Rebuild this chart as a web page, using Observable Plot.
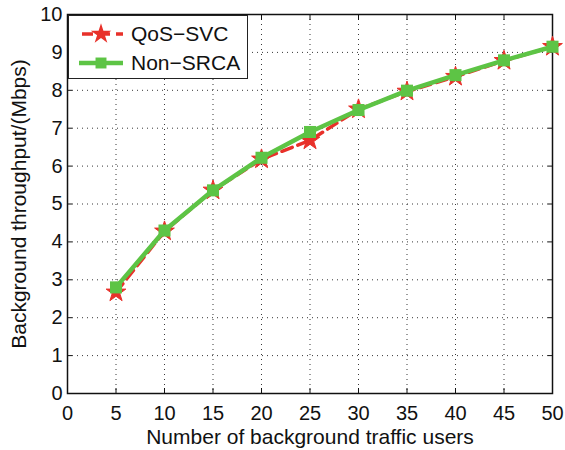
<!DOCTYPE html>
<html>
<head>
<meta charset="utf-8">
<script src="https://cdn.jsdelivr.net/npm/d3@7"></script>
<script src="https://cdn.jsdelivr.net/npm/@observablehq/plot@0.6"></script>
<style>
  html, body { margin: 0; padding: 0; background: #fff; }
  #wrap { position: relative; width: 565px; height: 450px; font-family: "Liberation Sans", Arial, sans-serif; }
  #legend { position: absolute; left: 68px; top: 15px; width: 180px; height: 64px; border: 1.5px solid #222; background: #fff; box-sizing: border-box; }
  .row { position: absolute; left: 0; height: 28px; display: flex; align-items: center; font-size: 21px; color: #111; }
  .row svg { margin-left: 9px; margin-right: 7px; }
</style>
</head>
<body>
<div id="wrap"></div>
<script>
const users = [5, 10, 15, 20, 25, 30, 35, 40, 45, 50];
const qosSvc = [2.67, 4.28, 5.36, 6.18, 6.68, 7.5, 7.97, 8.36, 8.78, 9.15];
const nonSrca = [2.8, 4.3, 5.36, 6.22, 6.9, 7.48, 7.99, 8.4, 8.79, 9.15];
const xTicks = [0, 5, 10, 15, 20, 25, 30, 35, 40, 45, 50];
const yTicks = [0, 1, 2, 3, 4, 5, 6, 7, 8, 9, 10];
const seriesNames = ["QoS\u2212SVC", "Non\u2212SRCA"];
const xTitle = "Number of background traffic users";
const yTitle = "Background throughput/(Mbps)";

const red = "#e8312a", green = "#5dc445";
const qos = users.map((u, i) => ({x: u, y: qosSvc[i]}));
const non = users.map((u, i) => ({x: u, y: nonSrca[i]}));

const chart = Plot.plot({
  width: 565, height: 450,
  marginLeft: 67, marginRight: 13, marginTop: 14, marginBottom: 57,
  style: {fontFamily: "Liberation Sans, Arial, sans-serif", fontSize: "20px", color: "#111", background: "#fff", overflow: "visible"},
  x: {domain: [0, 50], ticks: xTicks},
  y: {domain: [0, 10], ticks: yTicks},
  marks: [
    Plot.gridX(xTicks, {stroke: "#222", strokeOpacity: 0.9, strokeDasharray: "1,4", strokeWidth: 1}),
    Plot.gridY(yTicks, {stroke: "#222", strokeOpacity: 0.9, strokeDasharray: "1,4", strokeWidth: 1}),
    Plot.axisX(xTicks, {anchor: "bottom", tickSize: -5, tickPadding: 17, label: null, fontSize: 20}),
    Plot.axisX(xTicks, {anchor: "top", tickSize: -5, tickFormat: () => "", label: null}),
    Plot.axisY(yTicks, {anchor: "left", tickSize: -5, tickPadding: 10, label: null, fontSize: 20}),
    Plot.axisY(yTicks, {anchor: "right", tickSize: -5, tickFormat: () => "", label: null}),
    Plot.frame({stroke: "#111", strokeWidth: 1.5}),
    Plot.line(qos, {x: "x", y: "y", stroke: red, strokeWidth: 3.5, strokeDasharray: "11,6"}),
    Plot.dot(qos, {x: "x", y: "y", symbol: "star", r: 6.2, fill: red, stroke: red, strokeWidth: 1}),
    Plot.line(non, {x: "x", y: "y", stroke: green, strokeWidth: 4.5}),
    Plot.dot(non, {x: "x", y: "y", symbol: "square", r: 6.8, fill: green, stroke: "none"}),
    Plot.text([xTitle], {frameAnchor: "bottom", dy: 50, fontSize: 21, fill: "#111", textAnchor: "middle"}),
    Plot.text([yTitle], {frameAnchor: "left", dx: -48, rotate: -90, fontSize: 21, fill: "#111", textAnchor: "middle"})
  ]
});

const wrap = document.getElementById("wrap");
wrap.appendChild(chart);

const legend = document.createElement("div");
legend.id = "legend";
function row(top, name, color, dashed, symbol) {
  const r = document.createElement("div");
  r.className = "row";
  r.style.top = top + "px";
  const s = d3.create("svg").attr("width", 46).attr("height", 24);
  s.append("line").attr("x1", 1).attr("x2", 45).attr("y1", 12).attr("y2", 12)
    .attr("stroke", color).attr("stroke-width", dashed ? 3.5 : 4.5)
    .attr("stroke-dasharray", dashed ? "11,6" : null)
    .attr("stroke-dashoffset", dashed ? -3 : 0);
  s.append("path").attr("transform", "translate(23,12)")
    .attr("d", d3.symbol(symbol === "star" ? d3.symbolStar : d3.symbolSquare, symbol === "star" ? 130 : 120)())
    .attr("fill", color);
  r.appendChild(s.node());
  const t = document.createElement("span");
  t.textContent = name;
  r.appendChild(t);
  legend.appendChild(r);
}
row(4, seriesNames[0], red, true, "star");
row(33, seriesNames[1], green, false, "square");
wrap.appendChild(legend);
</script>
</body>
</html>
